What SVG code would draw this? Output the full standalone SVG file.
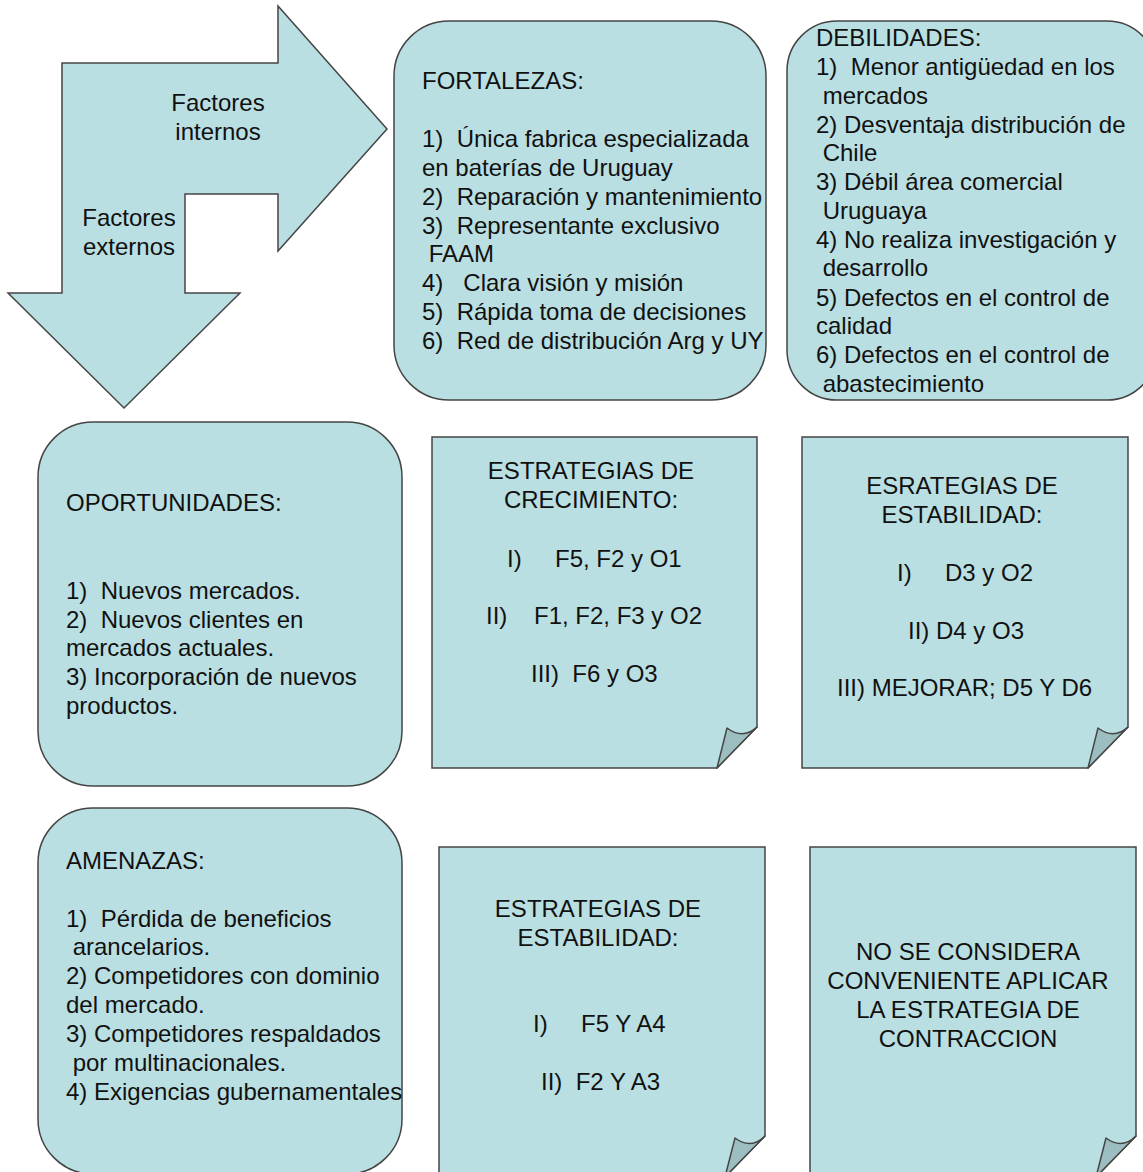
<svg xmlns="http://www.w3.org/2000/svg" width="1143" height="1172" viewBox="0 0 1143 1172">
<style>
.s{fill:#badfe2;stroke:#454545;stroke-width:1.5}
.f{fill:#9dbec0;stroke:#454545;stroke-width:1.5;stroke-linejoin:round}
text{font-family:"Liberation Sans",Arial,sans-serif;font-size:24px;fill:#111;white-space:pre}
.c{text-anchor:middle}
</style>
<rect width="1143" height="1172" fill="#fff"/>
<g id="arrows">
<path class="s" d="M62,63 H278 V6 L387,129 L278,251 V194 H185 V293 H240 L124,408 L8,293 H62 Z"/>
<text class="c" x="218" y="111">Factores</text>
<text class="c" x="218" y="140">internos</text>
<text class="c" x="129" y="226">Factores</text>
<text class="c" x="129" y="255">externos</text>
</g>
<g id="fortalezas">
<rect class="s" x="394" y="21" width="372" height="379" rx="55"/>
<text x="422" y="89">FORTALEZAS:</text>
<text x="422" y="147">1)  Única fabrica especializada</text>
<text x="422" y="176">en baterías de Uruguay</text>
<text x="422" y="205">2)  Reparación y mantenimiento</text>
<text x="422" y="234">3)  Representante exclusivo</text>
<text x="422" y="262"> FAAM</text>
<text x="422" y="291">4)   Clara visión y misión</text>
<text x="422" y="320">5)  Rápida toma de decisiones</text>
<text x="422" y="349">6)  Red de distribución Arg y UY</text>
</g>
<g id="debilidades">
<rect class="s" x="787" y="21" width="370" height="379" rx="50"/>
<text x="816" y="46">DEBILIDADES:</text>
<text x="816" y="75">1)  Menor antigüedad en los</text>
<text x="816" y="104"> mercados</text>
<text x="816" y="133">2) Desventaja distribución de</text>
<text x="816" y="161"> Chile</text>
<text x="816" y="190">3) Débil área comercial</text>
<text x="816" y="219"> Uruguaya</text>
<text x="816" y="248">4) No realiza investigación y</text>
<text x="816" y="276"> desarrollo</text>
<text x="816" y="306">5) Defectos en el control de</text>
<text x="816" y="334">calidad</text>
<text x="816" y="363">6) Defectos en el control de</text>
<text x="816" y="392"> abastecimiento</text>
</g>
<g id="oportunidades">
<rect class="s" x="38" y="422" width="364" height="364" rx="55"/>
<text x="66" y="511">OPORTUNIDADES:</text>
<text x="66" y="599">1)  Nuevos mercados.</text>
<text x="66" y="628">2)  Nuevos clientes en</text>
<text x="66" y="656">mercados actuales.</text>
<text x="66" y="685">3) Incorporación de nuevos</text>
<text x="66" y="714">productos.</text>
</g>
<g id="crecimiento">
<path class="s" d="M432,437 H757 V727 L717,768 H432 Z"/>
<path class="f" d="M727,728 Q743,740 757,727 L717,768 Z"/>
<text class="c" x="591" y="479">ESTRATEGIAS DE</text>
<text class="c" x="591" y="508">CRECIMIENTO:</text>
<text x="507" y="567">I)     F5, F2 y O1</text>
<text x="486" y="624">II)    F1, F2, F3 y O2</text>
<text x="531" y="682">III)  F6 y O3</text>
</g>
<g id="estabilidad1">
<path class="s" d="M802,437 H1128 V727 L1088,768 H802 Z"/>
<path class="f" d="M1098,728 Q1114,740 1128,727 L1088,768 Z"/>
<text class="c" x="962" y="494">ESRATEGIAS DE</text>
<text class="c" x="962" y="523">ESTABILIDAD:</text>
<text x="897" y="581">I)     D3 y O2</text>
<text x="908" y="639">II) D4 y O3</text>
<text x="837" y="696">III) MEJORAR; D5 Y D6</text>
</g>
<g id="amenazas">
<rect class="s" x="38" y="808" width="364" height="366" rx="55"/>
<text x="66" y="869">AMENAZAS:</text>
<text x="66" y="927">1)  Pérdida de beneficios</text>
<text x="66" y="955"> arancelarios.</text>
<text x="66" y="984">2) Competidores con dominio</text>
<text x="66" y="1013">del mercado.</text>
<text x="66" y="1042">3) Competidores respaldados</text>
<text x="66" y="1071"> por multinacionales.</text>
<text x="66" y="1100">4) Exigencias gubernamentales</text>
</g>
<g id="estabilidad2">
<path class="s" d="M439,847 H765 V1136 L725,1177 H439 Z"/>
<path class="f" d="M735,1138 Q751,1150 765,1136 L725,1177 Z"/>
<text class="c" x="598" y="917">ESTRATEGIAS DE</text>
<text class="c" x="598" y="946">ESTABILIDAD:</text>
<text x="533" y="1032">I)     F5 Y A4</text>
<text x="541" y="1090">II)  F2 Y A3</text>
</g>
<g id="contraccion">
<path class="s" d="M810,847 H1136 V1136 L1096,1177 H810 Z"/>
<path class="f" d="M1106,1138 Q1122,1150 1136,1136 L1096,1177 Z"/>
<text class="c" x="968" y="960">NO SE CONSIDERA</text>
<text class="c" x="968" y="989">CONVENIENTE APLICAR</text>
<text class="c" x="968" y="1018">LA ESTRATEGIA DE</text>
<text class="c" x="968" y="1047">CONTRACCION</text>
</g>
<g id="connectors"/>
</svg>
